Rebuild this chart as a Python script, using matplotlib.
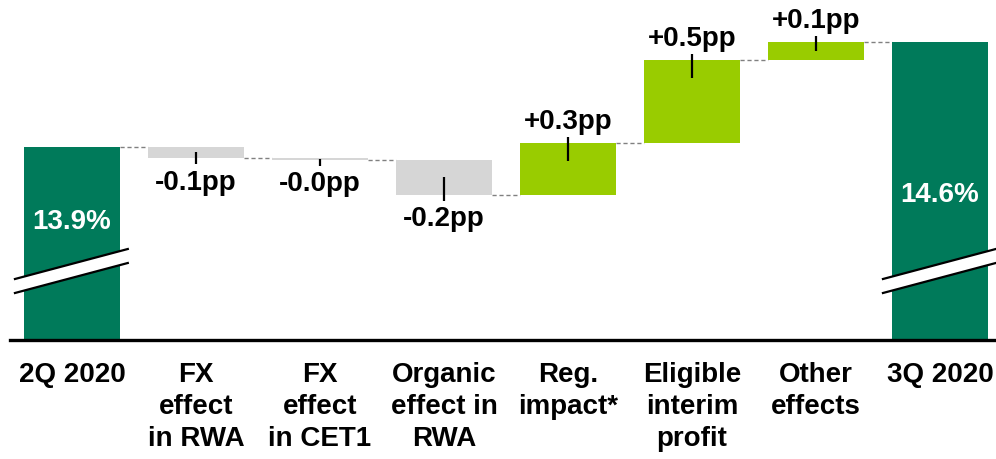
import matplotlib
matplotlib.use("Agg")
import matplotlib.pyplot as plt
from matplotlib.patches import Polygon
import numpy as np

plt.rcParams['font.family'] = ['Liberation Sans', 'DejaVu Sans']

categories = ["2Q 2020", "FX\neffect\nin RWA", "FX\neffect\nin CET1", "Organic\neffect in\nRWA",
              "Reg.\nimpact*", "Eligible\ninterim\nprofit", "Other\neffects", "3Q 2020"]
start_value = 13.9
end_value = 14.6
deltas = [-0.073, -0.013, -0.233, 0.347, 0.553, 0.12]
delta_labels = ["-0.1pp", "-0.0pp", "-0.2pp", "+0.3pp", "+0.5pp", "+0.1pp"]
total_labels = ["13.9%", "14.6%"]

DARK = "#007A5A"
LIGHT = "#99CC00"
GREY = "#D6D6D6"
FS = 20

W, H = 996, 459
fig = plt.figure(figsize=(W / 100, H / 100), dpi=100)
base_px = 340
ax = fig.add_axes([10 / W, (H - base_px) / H, (W - 10) / W, base_px / H])

px_per = 150.0
ymin = start_value - (base_px - 147) / px_per
ymax = start_value + 147 / px_per
ax.set_ylim(ymin, ymax)
ax.set_xlim(-0.5, (W - 72) / 124)

bw = 96 / 124
n = len(categories)

# totals
ax.bar(0, start_value - ymin, bottom=ymin, width=bw, color=DARK, zorder=2)
ax.bar(n - 1, end_value - ymin, bottom=ymin, width=bw, color=DARK, zorder=2)

level = start_value
for i, d in enumerate(deltas):
    x = i + 1
    col = GREY if d < 0 else LIGHT
    ax.bar(x, d, bottom=level, width=bw, color=col, zorder=2)
    new = level + d
    h = abs(d)
    inner = min(0.12, h / 2)
    out = 0.04
    if d < 0:
        y0, y1 = new - out, new + inner
        ax.plot([x, x], [y0, y1], color="black", lw=1.6, zorder=3, solid_capstyle="butt")
        ax.annotate(delta_labels[i], (x, y0), xytext=(0, -4), textcoords="offset points",
                    ha="center", va="top", fontsize=FS, fontweight="bold")
    else:
        y0, y1 = new + out, new - inner
        ax.plot([x, x], [y0, y1], color="black", lw=1.6, zorder=3, solid_capstyle="butt")
        ax.annotate(delta_labels[i], (x, y0), xytext=(0, 1), textcoords="offset points",
                    ha="center", va="bottom", fontsize=FS, fontweight="bold")
    level = new

# dashed connectors
conn_levels = [start_value] + [start_value + np.sum(deltas[:k + 1]) for k in range(len(deltas))]
for i in range(n - 1):
    yv = conn_levels[i]
    ax.plot([i + bw / 2, i + 1 - bw / 2], [yv, yv], color="#808080", lw=1.0,
            linestyle=(0, (3, 2)), zorder=1)

# total labels
ax.text(0, start_value - 75 / px_per, total_labels[0], ha="center", va="center",
        color="white", fontsize=FS, fontweight="bold", zorder=4)
ax.text(n - 1, end_value - 153 / px_per, total_labels[1], ha="center", va="center",
        color="white", fontsize=FS, fontweight="bold", zorder=4)

# break marks
for xc in [0, n - 1]:
    xl, xr = xc - 0.46, xc + 0.45
    yl, yr = start_value - (279 - 147) / px_per, start_value - (249 - 147) / px_per
    gap = 14 / px_per
    poly = Polygon([[xl, yl], [xr, yr], [xr, yr - gap], [xl, yl - gap]], closed=True,
                   facecolor="white", edgecolor="none", zorder=5, clip_on=False)
    ax.add_patch(poly)
    ax.plot([xl, xr], [yl, yr], color="black", lw=1.6, zorder=6, clip_on=False)
    ax.plot([xl, xr], [yl - gap, yr - gap], color="black", lw=1.6, zorder=6, clip_on=False)

for s in ["top", "left", "right"]:
    ax.spines[s].set_visible(False)
ax.spines["bottom"].set_linewidth(2.4)
ax.spines["bottom"].set_zorder(7)
ax.set_yticks([])
ax.set_xticks(range(n))
ax.set_xticklabels(categories, fontsize=FS, fontweight="bold", linespacing=1.3)
ax.tick_params(axis="x", length=0, pad=16)

fig.savefig("out.png", dpi=100)
